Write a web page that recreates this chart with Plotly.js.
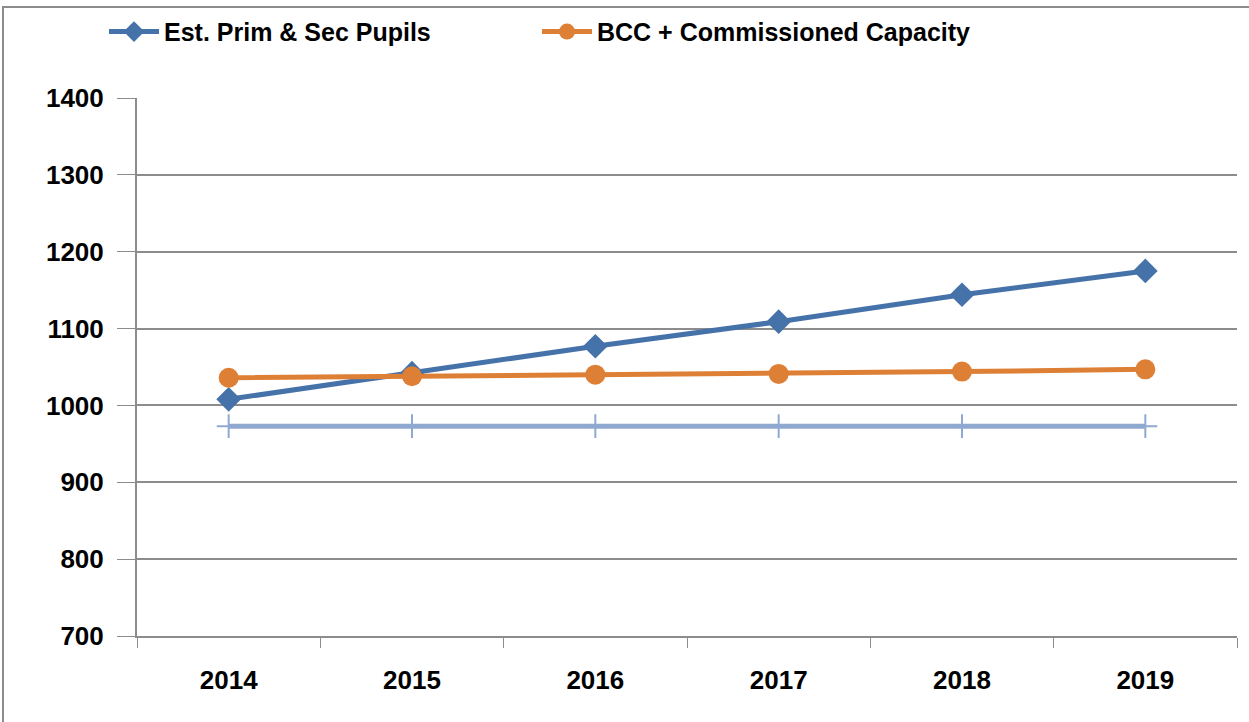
<!DOCTYPE html>
<html>
<head>
<meta charset="utf-8">
<script src="https://cdn.plot.ly/plotly-3.0.1.min.js"></script>
<style>
html,body{margin:0;padding:0;background:#fff;}
#chart{width:1249px;height:722px;}
#frame{position:absolute;left:2px;top:6px;width:1260px;height:730px;border:2px solid #8c8c8c;pointer-events:none;}
</style>
</head>
<body>
<div id="chart"></div>
<div id="frame"></div>
<script>
var years = ['2014','2015','2016','2017','2018','2019'];
var pupils = [1008, 1042, 1077, 1109, 1144, 1175];
var capacity = [1036, 1038, 1040, 1041, 1044, 1047];
var baseline = [973, 973, 973, 973, 973, 973];
var yTicks = [700, 800, 900, 1000, 1100, 1200, 1300, 1400];

var font = 'Liberation Sans, Arial, sans-serif';

var traces = [
  {
    x: years, y: baseline, type: 'scatter', mode: 'lines+markers',
    name: 'Baseline', showlegend: false,
    line: {color: '#8FA9D0', width: 5},
    marker: {symbol: 'cross-thin', size: 17, line: {color: '#8FA9D0', width: 2}, color: '#8FA9D0'}
  },
  {
    x: years, y: pupils, type: 'scatter', mode: 'lines+markers',
    name: 'Est. Prim &amp; Sec Pupils',
    line: {color: '#4672AA', width: 5},
    marker: {symbol: 'diamond', size: 19, color: '#4672AA'}
  },
  {
    x: years, y: capacity, type: 'scatter', mode: 'lines+markers',
    name: 'BCC + Commissioned Capacity',
    line: {color: '#DE7F36', width: 5},
    marker: {symbol: 'circle', size: 20, color: '#DE7F36'}
  }
];

var layout = {
  width: 1249, height: 722,
  margin: {l: 137, r: 12, t: 98, b: 86, autoexpand: false},
  paper_bgcolor: '#fff', plot_bgcolor: '#fff',
  font: {family: font, size: 26, color: '#000'},
  showlegend: true,
  legend: {
    orientation: 'h', x: -0.03, xanchor: 'left', y: 1.123, yanchor: 'middle',
    entrywidth: 368, entrywidthmode: 'pixels', traceorder: 'normal',
    font: {family: font, size: 25, color: '#000', weight: 'bold'}, itemwidth: 50
  },
  xaxis: {
    type: 'category', range: [-0.5, 5.5],
    showgrid: false, showline: true, linecolor: '#8c8c8c', linewidth: 2,
    ticks: 'outside', tickson: 'boundaries', ticklen: 10, tickcolor: '#8c8c8c', tickwidth: 1,
    ticklabelstandoff: 20,
    tickfont: {family: font, size: 26, color: '#000', weight: 'bold'},
    zeroline: false
  },
  yaxis: {
    range: [700, 1400], tickvals: yTicks, ticktext: yTicks.map(String),
    showgrid: true, gridcolor: '#8c8c8c', gridwidth: 2,
    showline: true, linecolor: '#8c8c8c', linewidth: 2,
    ticks: 'outside', ticklen: 18, tickcolor: '#8c8c8c',
    ticklabelstandoff: 8,
    tickfont: {family: font, size: 26, color: '#000', weight: 'bold'},
    zeroline: false
  }
};

Plotly.newPlot('chart', traces, layout, {displayModeBar: false, staticPlot: true});
</script>
</body>
</html>
